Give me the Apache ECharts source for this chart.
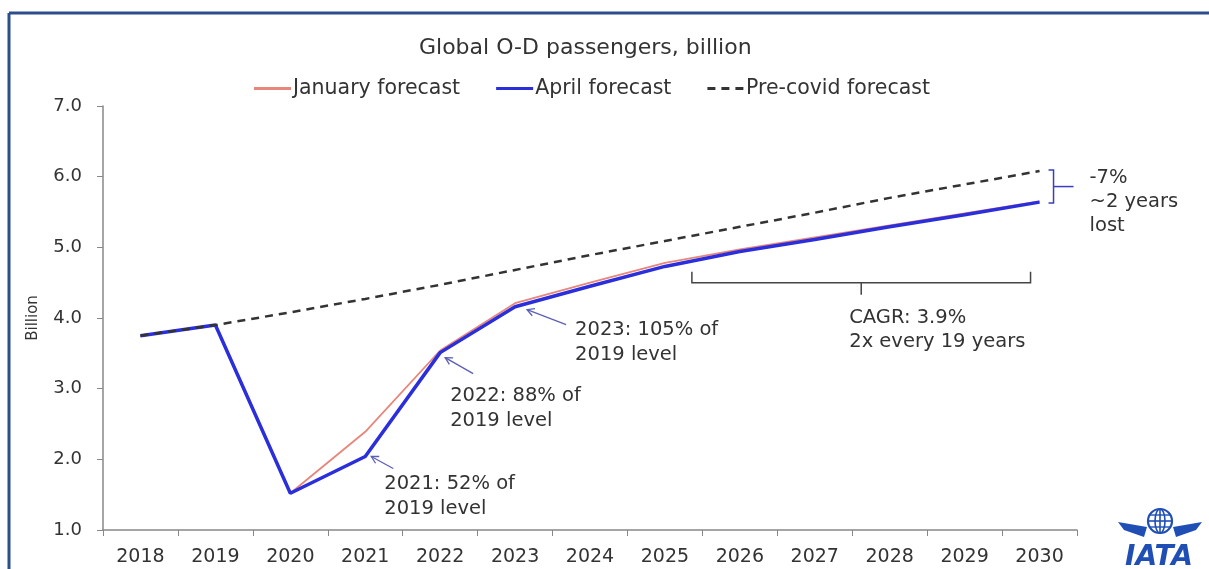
<!DOCTYPE html>
<html>
<head>
<meta charset="utf-8">
<script src="https://cdn.jsdelivr.net/npm/echarts@6/dist/echarts.min.js"></script>
<style>
html,body{margin:0;padding:0;background:#fff;}
#c{width:1209px;height:569px;}
</style>
</head>
<body>
<div id="c"></div>
<script>
// ---- data ----
const years = ['2018','2019','2020','2021','2022','2023','2024','2025','2026','2027','2028','2029','2030'];
const januaryForecast = [3.75, 3.90, 1.52, 2.39, 3.54, 4.21, 4.50, 4.78, 4.97, 5.14, 5.31, 5.48, 5.65];
const aprilForecast   = [3.75, 3.90, 1.52, 2.04, 3.51, 4.16, 4.45, 4.73, 4.94, 5.11, 5.29, 5.46, 5.64];
const preCovidForecast= [3.75, 3.90, 4.08, 4.27, 4.47, 4.68, 4.89, 5.09, 5.29, 5.49, 5.70, 5.89, 6.08];
const yTicks = [1, 2, 3, 4, 5, 6, 7];
const notes = [
  {year:'2021', series:'april', lines:['2021: 52% of','2019 level']},
  {year:'2022', series:'april', lines:['2022: 88% of','2019 level']},
  {year:'2023', series:'april', lines:['2023: 105% of','2019 level']}
];
const cagrText = ['CAGR: 3.9%','2x every 19 years'];
const gapText = ['-7%','~2 years','lost'];

const FONT = 'DejaVu Sans';
const chart = echarts.init(document.getElementById('c'), null, {renderer:'canvas'});

const option = {
  backgroundColor:'#fff',
  animation:false,
  title:{
    text:'Global O-D passengers, billion',
    left:414, top:32,
    textStyle:{fontFamily:FONT, fontSize:22, fontWeight:'normal', color:'#333'}
  },
  legend:{
    top:73, left:249,
    itemWidth:37, itemHeight:3, itemGap:36,
    textStyle:{fontFamily:FONT, fontSize:20.5, color:'#333', padding:[0,0,0,-3]},
    data:[
      {name:'January forecast', icon:'rect'},
      {name:'April forecast', icon:'rect'},
      {name:'Pre-covid forecast', icon:'path://M0,0h8v3h-8z M14,0h8v3h-8z M28,0h8v3h-8z'}
    ]
  },
  grid:{left:103, right:132, top:106, bottom:39},
  xAxis:{
    type:'category', data:years, boundaryGap:true,
    axisLine:{lineStyle:{color:'#888', width:1.5}},
    axisTick:{show:true, length:6, lineStyle:{color:'#888'}},
    axisLabel:{fontFamily:FONT, fontSize:19, color:'#333', margin:18}
  },
  yAxis:{
    type:'value', min:yTicks[0], max:yTicks[yTicks.length-1], interval:1,
    name:'Billion', nameLocation:'middle', nameGap:62, nameRotate:90,
    nameTextStyle:{fontFamily:FONT, fontSize:15, color:'#333'},
    axisLine:{show:true, lineStyle:{color:'#888', width:1.5}},
    axisTick:{show:true, length:6, inside:false, lineStyle:{color:'#888'}},
    splitLine:{show:false},
    axisLabel:{fontFamily:FONT, fontSize:18, color:'#333', margin:21, formatter:v=>v.toFixed(1)}
  },
  series:[
    {name:'January forecast', type:'line', data:januaryForecast, symbol:'none', z:2,
     lineStyle:{color:'#e8867b', width:1.8}, itemStyle:{color:'#e8867b'}},
    {name:'April forecast', type:'line', data:aprilForecast, symbol:'none', z:3,
     lineStyle:{color:'#2a2edb', width:3.5}, itemStyle:{color:'#2a2edb'}},
    {name:'Pre-covid forecast', type:'line', data:preCovidForecast, symbol:'none', z:4,
     lineStyle:{color:'#333', width:2.5, type:[8,6]}, itemStyle:{color:'#333'}}
  ]
};
chart.setOption(option);

function px(cat, val){ return chart.convertToPixel({gridIndex:0}, [cat, val]); }
const seriesMap = {april:aprilForecast, january:januaryForecast, pre:preCovidForecast};
const step = px(years[1],0)[0] - px(years[0],0)[0];

const g = [];
const ARROW = '#5c60b5';
function arrow(x1,y1,x2,y2){
  const a = Math.atan2(y2-y1, x2-x1), L=8, w=0.5;
  g.push({type:'polyline', shape:{points:[[x1,y1],[x2,y2]]}, style:{stroke:ARROW, lineWidth:1.3, fill:null}, z:10});
  g.push({type:'polyline', shape:{points:[
    [x2 - L*Math.cos(a-w), y2 - L*Math.sin(a-w)], [x2,y2],
    [x2 - L*Math.cos(a+w), y2 - L*Math.sin(a+w)]]}, style:{stroke:ARROW, lineWidth:1.3, fill:null}, z:10});
}
function txt(x,y,s,opt){
  g.push(Object.assign({type:'text', x:x, y:y, style:Object.assign({text:s, fontFamily:FONT, fontSize:19.5, fill:'#333', textVerticalAlign:'middle', textAlign:'left'}, opt||{})}, {z:10}));
}

// point annotations
const noteOffsets = {
  '2021':{a:[28,12], b:[6,0], t:[19,27]},
  '2022':{a:[33,21], b:[5,5], t:[10,43]},
  '2023':{a:[51,18], b:[12,3], t:[60,23]}
};
notes.forEach(n=>{
  const i = years.indexOf(n.year);
  const p = px(n.year, seriesMap[n.series][i]);
  const o = noteOffsets[n.year];
  arrow(p[0]+o.a[0], p[1]+o.a[1], p[0]+o.b[0], p[1]+o.b[1]);
  n.lines.forEach((s,k)=> txt(p[0]+o.t[0], p[1]+o.t[1]+k*25, s));
});

// CAGR bracket
{
  const xl = px('2025', 4.5)[0] + 0.36*step;
  const xr = px('2030', 4.5)[0] - 0.12*step;
  const y = px('2025', 4.5)[1];
  g.push({type:'polyline', shape:{points:[[xl,y-11],[xl,y],[xr,y],[xr,y-11]]}, style:{stroke:'#444', lineWidth:1.5, fill:null}, z:10});
  const xm = (xl+xr)/2;
  g.push({type:'line', shape:{x1:xm,y1:y,x2:xm,y2:y+12}, style:{stroke:'#444', lineWidth:1.5}, z:10});
  cagrText.forEach((s,k)=> txt(xm-12, y+35+k*24, s));
}

// gap bracket at 2030
{
  const i = years.length-1;
  const top = px(years[i], preCovidForecast[i]);
  const bot = px(years[i], aprilForecast[i]);
  const xb = top[0] + 14;
  g.push({type:'polyline', shape:{points:[[xb-5,top[1]-1],[xb,top[1]-1],[xb,bot[1]+1],[xb-5,bot[1]+1]]}, style:{stroke:'#3a3fc0', lineWidth:1.5, fill:null}, z:10});
  const ym = (top[1]+bot[1])/2;
  g.push({type:'line', shape:{x1:xb,y1:ym,x2:xb+20,y2:ym}, style:{stroke:'#3a3fc0', lineWidth:1.5}, z:10});
  gapText.forEach((s,k)=> txt(xb+36, top[1]+7+k*24, s));
}

// frame
g.push({type:'line', shape:{x1:9,y1:13,x2:1209,y2:13}, style:{stroke:'#2d4d8c', lineWidth:3}, z:20});
g.push({type:'line', shape:{x1:9,y1:13,x2:9,y2:569}, style:{stroke:'#2d4d8c', lineWidth:3}, z:20});

// IATA logo
{
  const cx=1160, cy=521, r=12, col='#1f4fb5';
  g.push({type:'circle', shape:{cx:cx,cy:cy,r:r}, style:{fill:'#fff', stroke:col, lineWidth:2.2}, z:10});
  g.push({type:'ellipse', shape:{cx:cx,cy:cy,rx:5,ry:r}, style:{fill:null, stroke:col, lineWidth:1.6}, z:10});
  g.push({type:'line', shape:{x1:cx,y1:cy-r,x2:cx,y2:cy+r}, style:{stroke:col, lineWidth:1.6}, z:10});
  g.push({type:'line', shape:{x1:cx-r,y1:cy,x2:cx+r,y2:cy}, style:{stroke:col, lineWidth:1.6}, z:10});
  g.push({type:'line', shape:{x1:cx-r+2,y1:cy-6,x2:cx+r-2,y2:cy-6}, style:{stroke:col, lineWidth:1.4}, z:10});
  g.push({type:'line', shape:{x1:cx-r+2,y1:cy+6,x2:cx+r-2,y2:cy+6}, style:{stroke:col, lineWidth:1.4}, z:10});
  // wings
  g.push({type:'polygon', shape:{points:[[cx-13,cy+6],[cx-42,cy+1],[cx-36,cy+9],[cx-16,cy+16]]}, style:{fill:col}, z:10});
  g.push({type:'polygon', shape:{points:[[cx+13,cy+6],[cx+42,cy+1],[cx+36,cy+9],[cx+16,cy+16]]}, style:{fill:col}, z:10});
  g.push({type:'text', x:cx-1, y:cy+37, style:{text:'IATA', fontFamily:'DejaVu Sans', fontSize:28, fontWeight:'bold', fontStyle:'italic', fill:col, textAlign:'center', textVerticalAlign:'middle'}, z:10});
}

chart.setOption({graphic:{elements:g}});
</script>
</body>
</html>
